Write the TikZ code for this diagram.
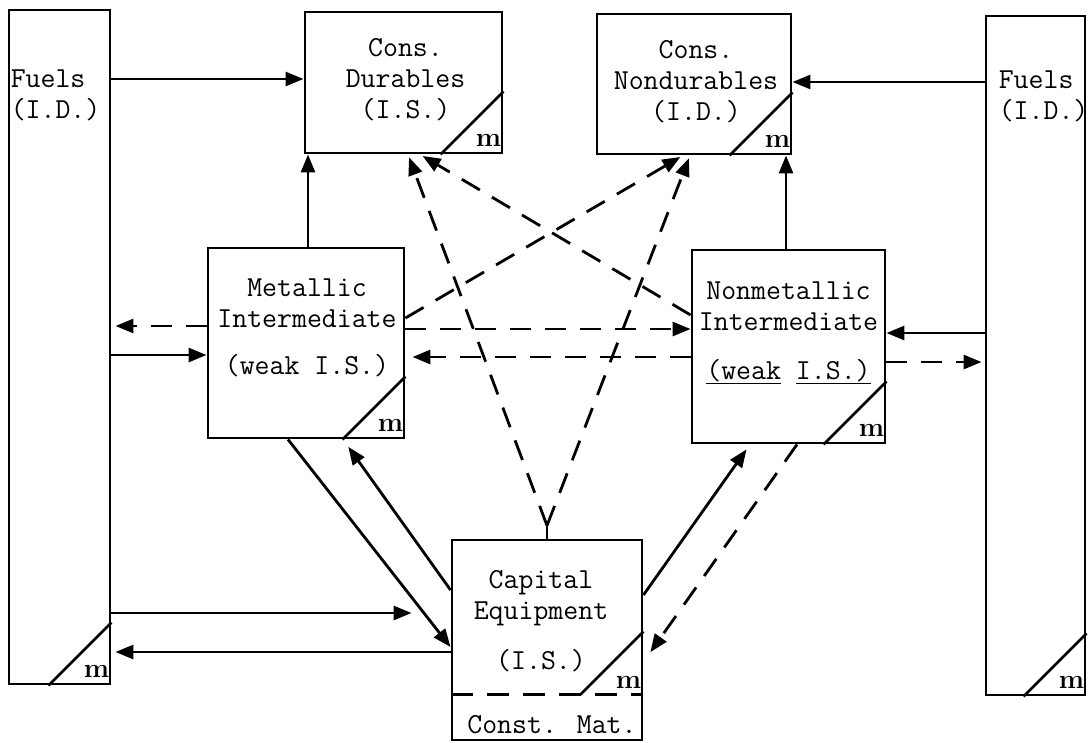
\documentclass[tikz,border=0pt]{standalone}
\usepackage{fontspec}
\usetikzlibrary{calc,positioning,arrows.meta}
\tikzset{>={Triangle[length=18pt,width=14pt]}}
\tikzset{
  box/.style={draw, line width=2.9pt, inner sep=0pt},
  lbl/.style={font=\ttfamily\fontsize{29}{31}\selectfont, align=center, inner sep=0pt},
  flow/.style={->, line width=2.8pt},
  spill/.style={->, line width=2.8pt, dash pattern=on 21pt off 14pt},
  mtag/.style={font=\rmfamily\bfseries\fontsize{27}{27}\selectfont, inner sep=0pt},
}

\begin{document}
\begin{tikzpicture}[x=1pt,y=-1pt]
  % --- Definitions ---
  \def\cut{63}   % size of the corner cut
  \useasboundingbox (0,0) rectangle (1089,742);

  % --- 1. Boxes ---
  \node[box, minimum width=101pt, minimum height=674pt] (fuelL) at (59.5,347) {};
  \node[box, minimum width=99pt, minimum height=679pt] (fuelR) at (1035.5,355.5) {};
  \node[box, minimum width=197pt, minimum height=141pt] (dur) at (403.5,82.5) {};
  \node[box, minimum width=194pt, minimum height=140pt] (nondur) at (694,84) {};
  \node[box, minimum width=196pt, minimum height=190pt] (met) at (306,343) {};
  \node[box, minimum width=193pt, minimum height=193pt] (nonmet) at (788.5,346.5) {};
  \node[box, minimum width=190pt, minimum height=200pt] (cap) at (547,640) {};

  % --- 2. Texts ---
  \node[lbl, align=left, anchor=west] (fuelLT) at ($(fuelL.north west)+(3,87)$) {Fuels\\(I.D.)};
  \node[lbl, align=left, anchor=west] (fuelRT) at ($(fuelR.north west)+(14,82)$) {Fuels\\(I.D.)};
  \node[lbl] (durT) at ($(dur)+(2,-2.5)$) {Cons.\\Durables\\(I.S.)};
  \node[lbl] (nondurT) at ($(nondur)+(2,-2.5)$) {Cons.\\Nondurables\\(I.D.)};
  \node[lbl] (metT) at ($(met)+(1,-15)$) {Metallic\\Intermediate\\[16pt](weak I.S.)};
  \node[lbl] (nonmetT) at ($(nonmet)+(0,-14)$) {Nonmetallic\\Intermediate\\[18pt]\underline{(weak} \underline{I.S.)}};
  \node[lbl] (capT) at ($(cap)+(-6,-19)$) {Capital\\Equipment\\[19pt](I.S.)};
  \node[lbl] (capM) at ($(cap.south)+(5,-17)$) {Const. Mat.};

  % --- 3. Corner cuts ---
  \coordinate (capdiv) at ($(cap.south east)+(0,-47)$);
  \draw[line width=2.7pt, dash pattern=on 22pt off 14pt] (cap.west |- capdiv) -- (capdiv);
  \foreach \b in {fuelL,fuelR,dur,nondur,met,nonmet} {%
    \draw[line width=2.7pt] ($(\b.south east)+(-\cut,0)$) -- ($(\b.south east)+(0,-\cut)$);
    \node[mtag] (\b-m) at ($(\b.south east)+(-15,-14)$) {m};
  }
  \draw[line width=2.7pt] ($(capdiv)+(-\cut,0)$) -- ($(capdiv)+(0,-\cut)$);
  \node[mtag] (cap-m) at ($(capdiv)+(-15,-12)$) {m};

  % --- 4. Fuels to consumer goods ---
  \draw[flow] (fuelL.east |- 0,79) -- (dur.west |- 0,79);
  \draw[flow] (fuelR.west |- 0,82) -- (nondur.east |- 0,82);
  \draw[flow] (met.north -| 308,0) -- (dur.south -| 308,0);
  \draw[flow] (nonmet.north -| 786,0) -- (nondur.south -| 786,0);

  % --- 5. Intermediates ---
  \draw[flow] (fuelL.east |- 0,355) -- (met.west |- 0,355);
  \draw[spill, shorten >=4pt] (met.west |- 0,326) -- (fuelL.east |- 0,326);
  \draw[spill] (met.east |- 0,329) -- (nonmet.west |- 0,329);
  \draw[spill, shorten >=7pt] (nonmet.west |- 0,357) -- (met.east |- 0,357);
  \draw[spill, shorten >=3pt] (nonmet.east |- 0,362) -- (fuelR.west |- 0,362);
  \draw[flow] (fuelR.west |- 0,333) -- (nonmet.east |- 0,333);
  \draw[spill, shorten >=3pt] (met.east |- 0,318) -- (nondur.south -| 683,0);
  \draw[spill, shorten >=3pt] (nonmet.west |- 0,315) -- (dur.south -| 420,0);

  % --- 6. Capital equipment ---
  \coordinate (fork) at ($(cap.north)+(0,-13)$);
  \draw[line width=2.8pt] (cap.north) -- (fork);
  \draw[spill, shorten >=3pt] (fork) -- (dur.south -| 408,0);
  \draw[spill, shorten >=3pt] (fork) -- (nondur.south -| 690,0);
  \draw[flow] (met.south -| 288,0) -- (cap.west |- 0,647);
  \draw[flow, shorten >=9pt] (cap.west |- 0,590) -- (met.south -| 343,0);
  \draw[flow, shorten >=6pt] (cap.east |- 0,595) -- (nonmet.south -| 750,0);
  \draw[spill, shorten >=12pt] (nonmet.south -| 797,0) -- (cap.east |- 0,662);
  \draw[flow, shorten >=39pt] (fuelL.east |- 0,613) -- (cap.west |- 0,613);
  \draw[flow, shorten >=4pt] (cap.west |- 0,652) -- (fuelL.east |- 0,652);

\end{tikzpicture}
\end{document}
